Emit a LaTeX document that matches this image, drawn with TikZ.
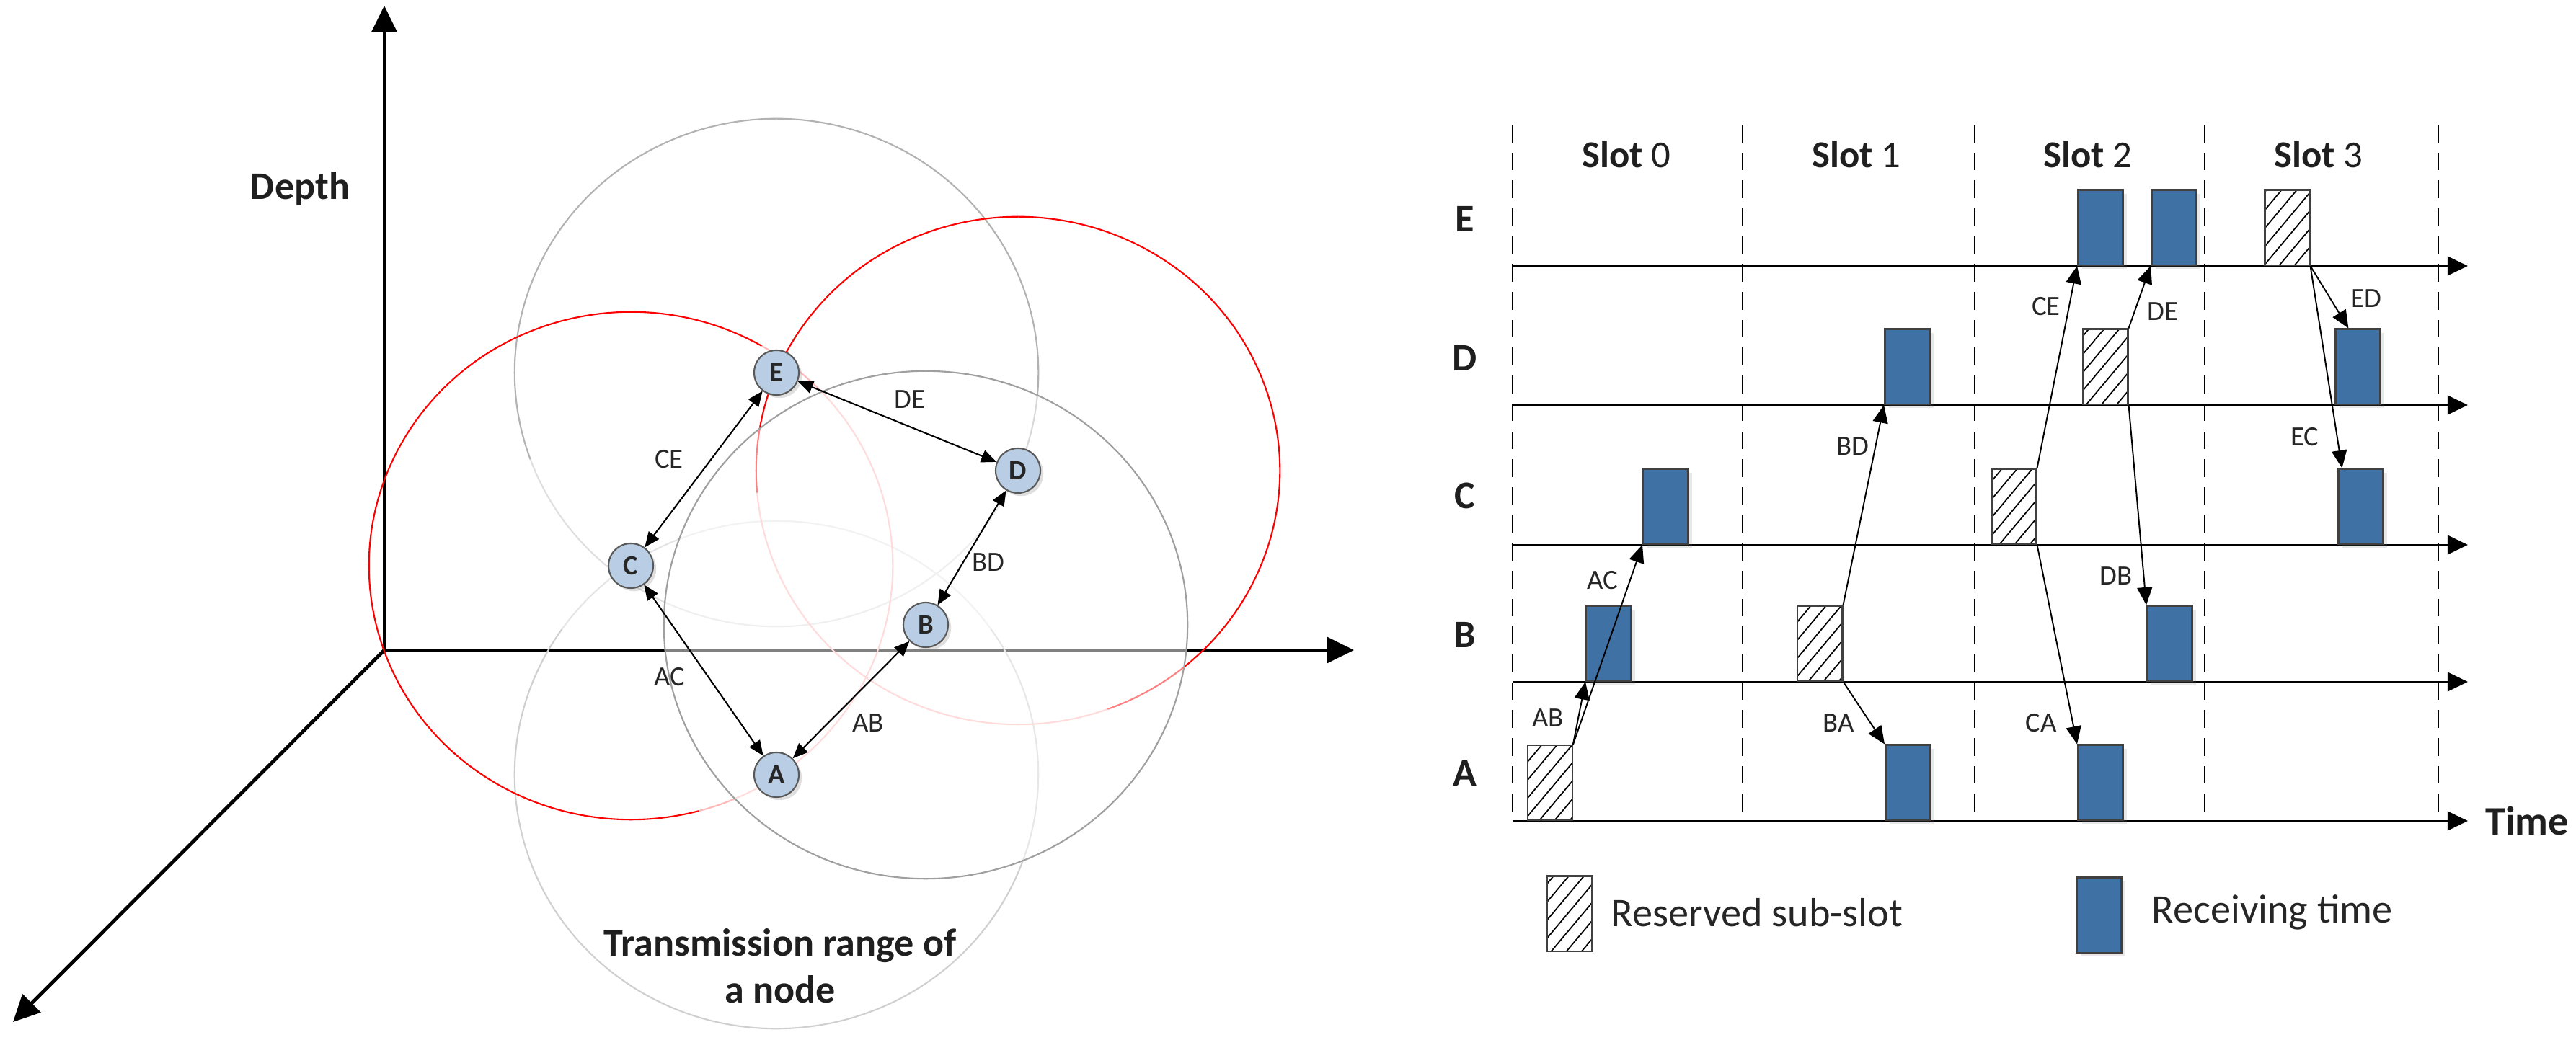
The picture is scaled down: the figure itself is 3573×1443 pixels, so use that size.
\documentclass[tikz,border=0pt]{standalone}
\usepackage{fontspec}
\setmainfont{Carlito}
\usetikzlibrary{arrows.meta,patterns.meta,shadows,calc}
\definecolor{recv}{HTML}{3F71A5}
\definecolor{nodefill}{HTML}{B9CEE4}
\definecolor{boxline}{HTML}{404040}
\begin{document}
\begin{tikzpicture}[x=0.01cm,y=-0.01cm,
  axisline/.style={line width=1.4pt,-{Triangle[length=10.5pt,width=10pt]}},
  netnode/.style={circle,draw=black!65,line width=0.6pt,fill=nodefill,minimum size=0.62cm,inner sep=0pt,
     font=\fontsize{11pt}{12pt}\selectfont\bfseries,text=black!85,
     drop shadow={opacity=0.25,shadow xshift=1.2pt,shadow yshift=-1.2pt}},
  linkarrow/.style={{Triangle[length=6pt,width=5pt]}-{Triangle[length=6pt,width=5pt]},line width=0.6pt},
  elbl/.style={font=\fontsize{11pt}{13pt}\selectfont,inner sep=0pt,text=black!85},
  bigbold/.style={font=\fontsize{15.4pt}{18.5pt}\selectfont\bfseries,inner sep=0pt,text=black!88,align=center},
  slotlbl/.style={font=\fontsize{15pt}{18pt}\selectfont,inner sep=0pt,text=black!88},
  legtxt/.style={font=\fontsize{16pt}{19pt}\selectfont,inner sep=0pt,text=black!85},
  timeline/.style={line width=0.8pt,-{Triangle[length=8pt,width=7.5pt]}},
  slotline/.style={line width=0.8pt,dash pattern=on 7pt off 4pt},
  recvbox/.style={draw=boxline,line width=0.7pt,fill=recv,minimum width=0.62cm,minimum height=1.04cm,
     inner sep=0pt,anchor=south west,drop shadow={opacity=0.18,shadow xshift=1.5pt,shadow yshift=-1.5pt}},
  resbox/.style={draw=boxline,line width=0.7pt,preaction={fill=white},
     pattern={Lines[angle=50,distance=4.6pt,line width=0.5pt]},minimum width=0.62cm,minimum height=1.04cm,
     inner sep=0pt,anchor=south west},
  msg/.style={line width=0.55pt,-{Triangle[length=7pt,width=6pt]}},
  rng/.style={line width=0.6pt}
]
\path[use as bounding box] (0,0) rectangle (3573,1443);

% ---------------- left: 3D sketch ----------------
\coordinate (O) at (533,902);
\coordinate (Ytip) at (533,8);
\coordinate (Xtip) at (1878,902);
\coordinate (Ztip) at (18,1418);
\draw[axisline] (O) -- (Ytip);
\draw[axisline] (O) -- (Xtip);
\draw[axisline] (O) -- (Ztip);

\coordinate (cA) at (1077,1075);
\coordinate (cB) at (1284,867);
\coordinate (cC) at (875,785);
\coordinate (cD) at (1412,653);
\coordinate (cE) at (1077,517);

% range of E
\draw[rng,gray!60] (cE) ++(-20:3.63cm and 3.52cm) arc[start angle=-20,end angle=200,x radius=3.63cm,y radius=3.52cm];
\draw[rng,gray!25] (cE) ++(200:3.63cm and 3.52cm) arc[start angle=200,end angle=340,x radius=3.63cm,y radius=3.52cm];
% range of A
\draw[rng,gray!38] (cA) ++(145:3.63cm and 3.52cm) arc[start angle=145,end angle=395,x radius=3.63cm,y radius=3.52cm];
\draw[rng,gray!20] (cA) ++(35:3.63cm and 3.52cm) arc[start angle=35,end angle=145,x radius=3.63cm,y radius=3.52cm];
% range of C (red)
\draw[rng,red] (cC) ++(60:3.63cm and 3.52cm) arc[start angle=60,end angle=285,x radius=3.63cm,y radius=3.52cm];
\draw[rng,red!28] (cC) ++(-75:3.63cm and 3.52cm) arc[start angle=-75,end angle=60,x radius=3.63cm,y radius=3.52cm];
% range of D (red)
\draw[rng,red] (cD) ++(-70:3.63cm and 3.52cm) arc[start angle=-70,end angle=185,x radius=3.63cm,y radius=3.52cm];
\draw[rng,red!28] (cD) ++(185:3.63cm and 3.52cm) arc[start angle=185,end angle=290,x radius=3.63cm,y radius=3.52cm];
% range of B
\draw[rng,gray!75,fill=white,fill opacity=0.5] (cB) ellipse[x radius=3.63cm,y radius=3.52cm];

\node[netnode] (A) at (cA) {A};
\node[netnode] (B) at (cB) {B};
\node[netnode] (C) at (cC) {C};
\node[netnode] (D) at (cD) {D};
\node[netnode] (E) at (cE) {E};

\draw[linkarrow] (C) -- (E);
\draw[linkarrow] (E) -- (D);
\draw[linkarrow] (D) -- (B);
\draw[linkarrow] (B) -- (A);
\draw[linkarrow] (A) -- (C);

\node[elbl] (lCE) at (928,637) {CE};
\node[elbl] (lDE) at (1262,554) {DE};
\node[elbl] (lBD) at (1371,780) {BD};
\node[elbl] (lAB) at (1204,1003) {AB};
\node[elbl] (lAC) at (929,939) {AC};

\node[bigbold] (depth) at (416,262) {Depth};
\node[bigbold] (range) at (1082,1340) {Transmission range of\\a node};

% ---------------- right: time slots ----------------
\foreach \x in {2098,2417,2739,3058,3382}{
  \draw[slotline] (\x,173) -- (\x,1139);
}
\foreach \y/\n in {369/E,562/D,756/C,946/B,1139/A}{
  \coordinate (s\n) at (2098,\y);
  \coordinate (t\n) at (3423,\y);
  \draw[timeline] (s\n) -- (t\n);
}

\node[bigbold] (rowE) at (2032,304) {E};
\node[bigbold] (rowD) at (2032,497) {D};
\node[bigbold] (rowC) at (2032,688) {C};
\node[bigbold] (rowB) at (2032,881) {B};
\node[bigbold] (rowA) at (2032,1073) {A};

\node[slotlbl] (slot0) at (2256,214) {\textbf{Slot} 0};
\node[slotlbl] (slot1) at (2575,214) {\textbf{Slot} 1};
\node[slotlbl] (slot2) at (2896,214) {\textbf{Slot} 2};
\node[slotlbl] (slot3) at (3216,214) {\textbf{Slot} 3};
\node[bigbold,font=\fontsize{16pt}{19pt}\selectfont\bfseries] (time) at (3505,1139) {Time};

% row A
\node[resbox] (hA0) at (2118,1139) {};
\node[recvbox] (bA1) at (2614,1139) {};
\node[recvbox] (bA2) at (2881,1139) {};
% row B
\node[recvbox] (bB0) at (2199,946) {};
\node[resbox] (hB1) at (2492,946) {};
\node[recvbox] (bB2) at (2977,946) {};
% row C
\node[recvbox] (bC0) at (2278,756) {};
\node[resbox] (hC2) at (2761,756) {};
\node[recvbox] (bC3) at (3242,756) {};
% row D
\node[recvbox] (bD1) at (2613,562) {};
\node[resbox] (hD2) at (2888,562) {};
\node[recvbox] (bD3) at (3238,562) {};
% row E
\node[recvbox] (bE2) at (2881,369) {};
\node[recvbox] (bE2b) at (2983,369) {};
\node[resbox] (hE3) at (3140,369) {};

% messages
\draw[msg] (hA0.north east) -- (bB0.south west);
\draw[msg] (hA0.north east) -- (bC0.south west);
\draw[msg] (hB1.south east) -- (bA1.north west);
\draw[msg] (hB1.north east) -- (bD1.south west);
\draw[msg] (hC2.north east) -- (bE2.south west);
\draw[msg] (hC2.south east) -- (bA2.north west);
\draw[msg] (hD2.north east) -- (bE2b.south west);
\draw[msg] (hD2.south east) -- (bB2.north west);
\draw[msg] (hE3.south east) -- ($(bD3.north west)!0.3!(bD3.north east)$);
\draw[msg] (hE3.south east) -- ($(bC3.north west)!0.1!(bC3.north east)$);

\node[elbl] (mAB) at (2147,996) {AB};
\node[elbl] (mAC) at (2223,805) {AC};
\node[elbl] (mBA) at (2550,1003) {BA};
\node[elbl] (mBD) at (2570,619) {BD};
\node[elbl] (mCE) at (2838,425) {CE};
\node[elbl] (mCA) at (2831,1003) {CA};
\node[elbl] (mDE) at (3000,432) {DE};
\node[elbl] (mDB) at (2935,799) {DB};
\node[elbl] (mED) at (3282,414) {ED};
\node[elbl] (mEC) at (3197,606) {EC};

% legend
\node[resbox] (legRes) at (2145,1321) {};
\node[legtxt,anchor=west] (legResT) at (2234,1266) {Reserved sub-slot};
\node[recvbox] (legRecv) at (2879,1323) {};
\node[legtxt,anchor=west] (legRecvT) at (2984,1266) {Receiving time};
\end{tikzpicture}
\end{document}
